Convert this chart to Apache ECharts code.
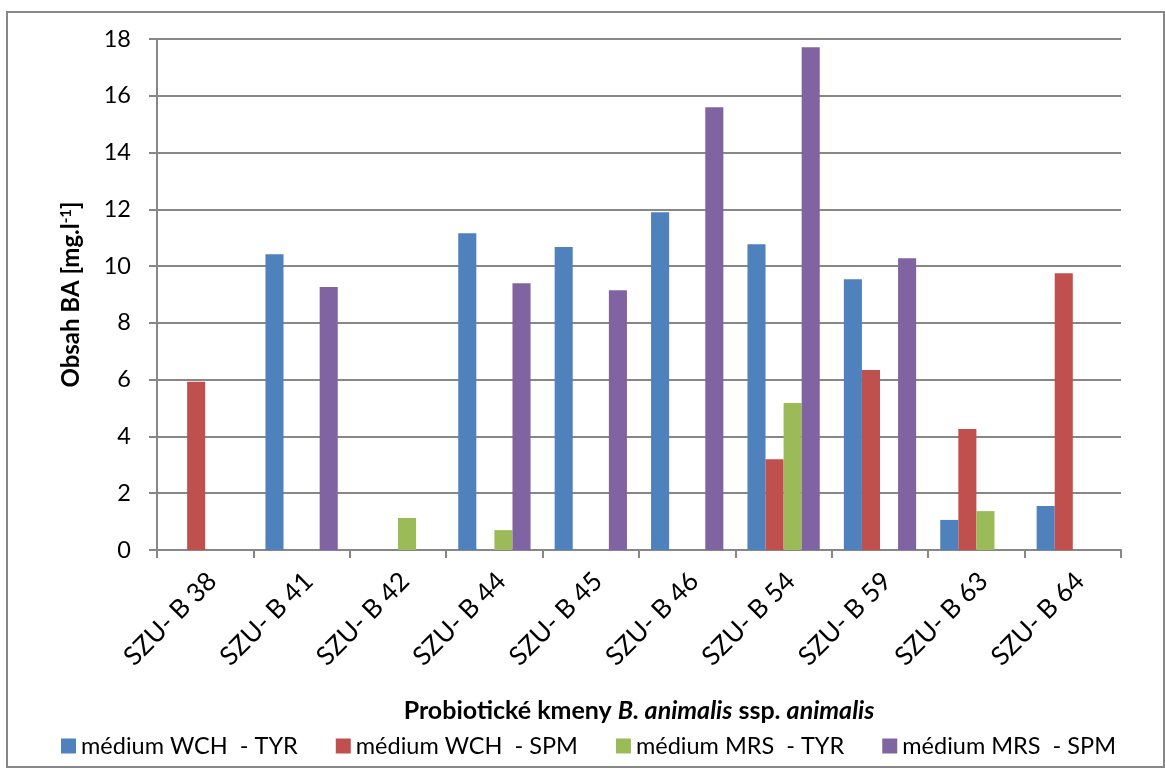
<!DOCTYPE html>
<html>
<head>
<meta charset="utf-8">
<title>Obsah BA</title>
<script src="https://cdn.jsdelivr.net/npm/echarts@6/dist/echarts.min.js"></script>
<style>
html,body{margin:0;padding:0;background:#fff;}
#main{width:1165px;height:769px;}
</style>
</head>
<body>
<div id="main"></div>
<script>
// kmeny (osa x)
var kmeny = ['SZU- B 38','SZU- B 41','SZU- B 42','SZU- B 44','SZU- B 45','SZU- B 46','SZU- B 54','SZU- B 59','SZU- B 63','SZU- B 64'];
// hodnoty [mg.l-1]
var wchTyr = [null, 10.42, null, 11.16, 10.67, 11.90, 10.77, 9.54, 1.06, 1.55];
var wchSpm = [5.93, null, null, null, null, null, 3.20, 6.34, 4.26, 9.75];
var mrsTyr = [null, null, 1.13, 0.70, null, null, 5.18, null, 1.37, null];
var mrsSpm = [null, 9.26, null, 9.40, 9.15, 15.60, 17.71, 10.28, null, null];
var nazvy = ['médium WCH  - TYR','médium WCH  - SPM','médium MRS  - TYR','médium MRS  - SPM'];
var barvy = ['#4F81BD','#C0504D','#9BBB59','#8064A2'];

var font = 'Lato, "Open Sans", sans-serif';
var seda = '#878787';

function drawChart(){
	var myChart = echarts.init(document.getElementById('main'), null, {renderer:'canvas'});
	var data = [wchTyr, wchSpm, mrsTyr, mrsSpm];
	var series = [];
	for (var i = 0; i < data.length; i++) {
		series.push({
			name: nazvy[i],
			type: 'bar',
			data: data[i],
			barGap: '0%',
			barCategoryGap: '25%',
			itemStyle: {color: barvy[i]},
			animation: false
		});
	}
	var option = {
		backgroundColor: '#fff',
		color: barvy,
		textStyle: {fontFamily: font},
		grid: {left: 157, right: 44, top: 39, bottom: 219, containLabel: false},
		legend: {
			left: 56,
			top: 729,
			itemWidth: 15,
			itemHeight: 15,
			itemGap: 38,
			icon: 'rect',
			data: nazvy,
			textStyle: {fontFamily: font, fontSize: 23.5, color: '#000'}
		},
		xAxis: {
			type: 'category',
			data: kmeny,
			name: '{b|Probiotické kmeny }{bi|B. animalis}{b| ssp. }{bi|animalis}',
			nameLocation: 'middle',
			nameGap: 148,
			nameTextStyle: {
				rich: {
					b: {fontFamily: font, fontSize: 25, fontWeight: 'bold', color: '#000'},
					bi: {fontFamily: font, fontSize: 25, fontWeight: 'bold', fontStyle: 'italic', color: '#000'}
				}
			},
			axisLine: {lineStyle: {color: seda, width: 2}},
			axisTick: {show: true, length: 8, alignWithLabel: false, lineStyle: {color: seda, width: 2}},
			axisLabel: {rotate: 45, margin: 34, padding: [0, -10, 0, 0], fontSize: 26, color: '#000', fontFamily: font, interval: 0}
		},
		yAxis: {
			type: 'value',
			min: 0,
			max: 18,
			interval: 2,
			name: '{b|Obsah BA [mg.l}{sup|-1}{b|]}',
			nameLocation: 'middle',
			nameGap: 74,
			nameRotate: 90,
			nameTextStyle: {
				rich: {
					b: {fontFamily: font, fontSize: 24, fontWeight: 'bold', color: '#000'},
					sup: {fontFamily: font, fontSize: 15, fontWeight: 'bold', color: '#000', verticalAlign: 'top'}
				}
			},
			axisLine: {show: true, lineStyle: {color: seda, width: 2}},
			axisTick: {show: true, length: 8, lineStyle: {color: seda, width: 2}},
			axisLabel: {margin: 26, fontSize: 23.5, color: '#000', fontFamily: font},
			splitLine: {show: true, lineStyle: {color: seda, width: 2}}
		},
		graphic: [{
			type: 'rect',
			shape: {x: 7, y: 12, width: 1157, height: 755},
			style: {fill: null, stroke: seda, lineWidth: 2},
			silent: true
		}],
		series: series,
		animation: false
	};
	myChart.setOption(option);
}
drawChart();
</script>
</body>
</html>
